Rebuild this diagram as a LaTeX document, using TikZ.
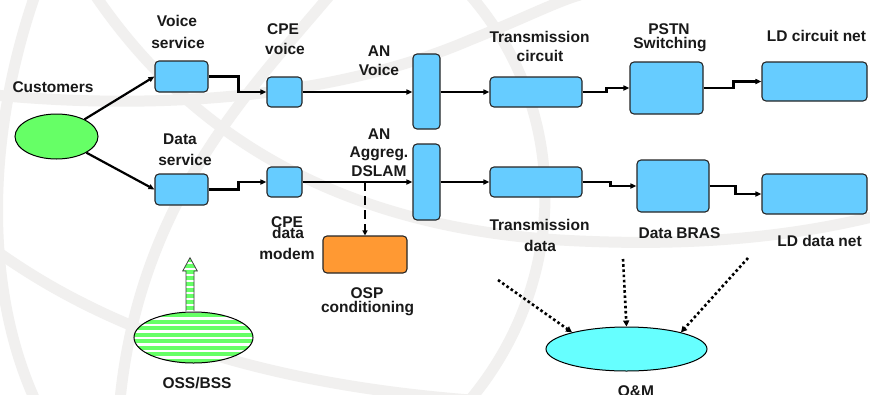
\documentclass[tikz,border=0pt]{standalone}
\usepackage{fontspec}
\setmainfont{Liberation Sans}
\usetikzlibrary{arrows.meta,shapes.geometric}
\definecolor{boxblue}{RGB}{102,204,255}
\definecolor{custgreen}{RGB}{102,255,102}
\definecolor{ospor}{RGB}{255,153,51}
\definecolor{omcyan}{RGB}{102,255,255}
\definecolor{wmark}{RGB}{241,240,239}
\begin{document}
\begin{tikzpicture}[x=1pt,y=-1pt,
  box/.style={draw=black!85, line width=1.1pt, fill=boxblue, rounded corners=4pt, inner sep=0pt},
  oval/.style={ellipse, draw=black, line width=1pt, inner sep=0pt},
  lbl/.style={font=\fontsize{15.5}{18}\selectfont\bfseries, inner sep=0pt, anchor=base, text=black!90},
  conn/.style={line width=2.2pt, -{Triangle[length=6pt,width=5pt]}},
  dots/.style={line width=2.6pt, dash pattern=on 2.6pt off 2.6pt, -{Triangle[length=6pt,width=6pt]}},
  wm/.style={draw=wmark, line width=11pt}]
\useasboundingbox (0,0) rectangle (870,394);
\fill[white] (0,0) rectangle (870,394);
% faint watermark (globe)
\begin{scope}
\clip (0,0) rectangle (870,394);
\draw[wm] (95,-5) .. controls (180,120) and (320,225) .. (560,240) .. controls (700,248) and (800,235) .. (880,215);
\draw[wm] (-5,250) .. controls (120,340) and (280,385) .. (470,400);
\draw[wm] (35,-5) .. controls (-15,140) and (-15,290) .. (35,400);
\draw[wm] (330,-5) .. controls (250,90) and (140,200) .. (120,400);
\draw[wm] (470,-5) .. controls (570,110) and (570,280) .. (470,400);
\draw[wm] (-5,95) .. controls (150,110) and (330,100) .. (470,40) .. controls (520,20) and (560,0) .. (580,-5);
\end{scope}

% boxes
\node[box, minimum width=53pt, minimum height=31pt] (vs) at (181.5,76.5) {};
\node[box, minimum width=53pt, minimum height=31pt] (ds) at (181.5,189.5) {};
\node[box, minimum width=35pt, minimum height=30pt] (cpev) at (284.5,92) {};
\node[box, minimum width=35pt, minimum height=30pt] (cped) at (284.5,182) {};
\node[box, minimum width=27pt, minimum height=75pt] (anv) at (426.5,91.5) {};
\node[box, minimum width=27pt, minimum height=76pt] (ana) at (426.5,182) {};
\node[box, fill=ospor, minimum width=84pt, minimum height=37pt] (osp) at (365,254.5) {};
\node[box, minimum width=92pt, minimum height=30pt] (tc) at (536,92) {};
\node[box, minimum width=92pt, minimum height=30pt] (td) at (536,182) {};
\node[box, minimum width=73pt, minimum height=52pt] (pstn) at (666.5,88) {};
\node[box, minimum width=72pt, minimum height=52pt] (bras) at (673,186) {};
\node[box, minimum width=105pt, minimum height=39pt] (ldc) at (814.5,81.5) {};
\node[box, minimum width=105pt, minimum height=40pt] (ldd) at (814.5,194) {};

% ellipses
\node[oval, fill=custgreen, minimum width=83pt, minimum height=45pt] (cust) at (56.5,136.5) {};
\node[oval, fill=omcyan, minimum width=161pt, minimum height=44pt] (om) at (626.5,349) {};

% OSS/BSS striped ellipse
\begin{scope}
\clip (193.5,337.5) ellipse [x radius=59.5, y radius=25.5];
\fill[white] (130,310) rectangle (260,366);
\foreach \yy in {313,319.5,...,366} \fill[custgreen] (130,\yy) rectangle (260,\yy+4);
\end{scope}
\node[oval, minimum width=119pt, minimum height=51pt] (oss) at (193.5,337.5) {};

% striped fat arrow
\begin{scope}
\clip (186,311) -- (186,271) -- (182.7,271) -- (190,257.7) -- (197.3,271) -- (194,271) -- (194,311) -- cycle;
\fill[white] (180,255) rectangle (200,312);
\foreach \yy in {258,264,...,312} \fill[custgreen] (180,\yy) rectangle (200,\yy+3.5);
\end{scope}
\draw[black!75, line width=0.8pt] (186,311) -- (186,271) -- (182.7,271) -- (190,257.7) -- (197.3,271) -- (194,271) -- (194,311);

% connectors
\draw[conn] (cust) -- (vs.west);
\draw[conn] (cust) -- (ds.west);
\draw[conn] (vs.east) -- ++(30,0) |- (cpev.west);
\draw[conn] (ds.east) -- ++(30,0) |- (cped.west);
\draw[conn] (cpev.east) -- (anv.west |- cpev.east);
\draw[conn] (cped.east) -- (ana.west |- cped.east);
\draw[conn] (anv.east |- tc.west) -- (tc.west);
\draw[conn] (ana.east |- td.west) -- (td.west);
\draw[conn] (tc.east) -- ++(24,0) |- (pstn.west);
\draw[conn] (pstn.east) -- ++(30,0) |- (ldc.west);
\draw[conn] (td.east) -- ++(28,0) |- (bras.west);
\draw[conn] (bras.east) -- ++(26,0) |- (ldd.west);
\coordinate (tap) at (365,182);
\draw[line width=2.6pt, dash pattern=on 9pt off 5pt, -{Triangle[length=5pt,width=5pt]}] (tap) -- (osp.north);

% dotted arrows to O&M
\coordinate (d1) at (498,280);
\coordinate (d2) at (623,259);
\coordinate (d3) at (748,258);
\draw[dots] (d1) -- (om.163);
\draw[dots] (d2) -- (om.north);
\draw[dots] (d3) -- (om.17);

% labels
\node[lbl] (tcust) at (53,92) {Customers};
\node[lbl] (tvs1) at (177,26) {Voice};
\node[lbl] (tvs2) at (178,48) {service};
\node[lbl] (tds1) at (180,144) {Data};
\node[lbl] (tds2) at (185,165) {service};
\node[lbl] (tcv1) at (283,34) {CPE};
\node[lbl] (tcv2) at (285,54) {voice};
\node[lbl] (tav1) at (379,56) {AN};
\node[lbl] (tav2) at (379,75) {Voice};
\node[lbl] (taa1) at (379,139) {AN};
\node[lbl] (taa2) at (379,157) {Aggreg.};
\node[lbl] (taa3) at (379,176) {DSLAM};
\node[lbl] (tcd1) at (287,227) {CPE};
\node[lbl] (tcd2) at (288,238) {data};
\node[lbl] (tcd3) at (287,259) {modem};
\node[lbl] (tosp1) at (367,298) {OSP};
\node[lbl] (tosp2) at (367.5,312) {conditioning};
\node[lbl] (toss) at (197,388) {OSS/BSS};
\node[lbl] (ttc1) at (539.5,42) {Transmission};
\node[lbl] (ttc2) at (540,61) {circuit};
\node[lbl] (tps1) at (669,34) {PSTN};
\node[lbl] (tps2) at (670,48) {Switching};
\node[lbl] (tldc) at (816.5,41) {LD circuit net};
\node[lbl] (ttd1) at (539.5,230) {Transmission};
\node[lbl] (ttd2) at (540,251) {data};
\node[lbl] (tbras) at (679.5,238) {Data BRAS};
\node[lbl] (tldd) at (819.5,246) {LD data net};
\node[lbl] (tom) at (636,396.5) {O\&M};
\end{tikzpicture}
\end{document}
